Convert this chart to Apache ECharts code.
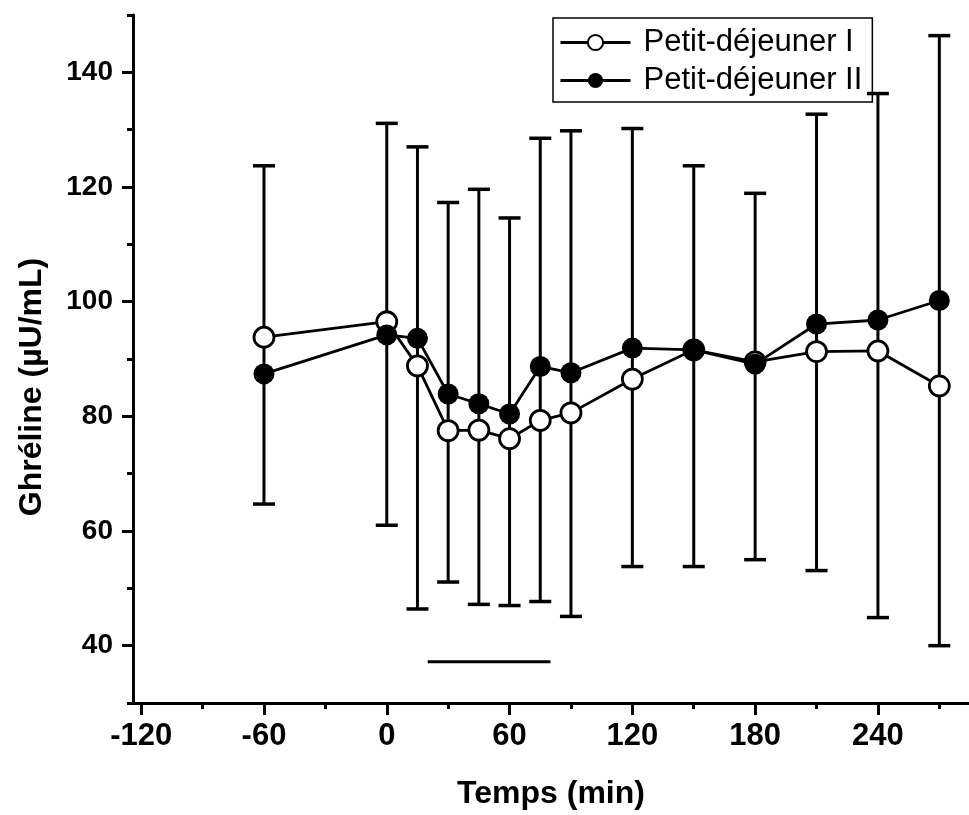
<!DOCTYPE html>
<html>
<head>
<meta charset="utf-8">
<script src="https://cdn.jsdelivr.net/npm/echarts@6/dist/echarts.min.js"></script>
<style>html,body{margin:0;padding:0;background:#fff}#c{width:969px;height:815px}</style>
</head>
<body>
<div id="c"></div>
<script>
// ---- data ----
const times = [-60, 0, 15, 30, 45, 60, 75, 90, 120, 150, 180, 210, 240, 270];
const petitDejeunerI = [93.8, 96.5, 88.8, 77.5, 77.6, 76.1, 79.3, 80.6, 86.5, 91.6, 89.5, 91.3, 91.4, 85.3];
const petitDejeunerII = [87.4, 94.2, 93.6, 83.9, 82.2, 80.4, 88.7, 87.6, 91.9, 91.6, 89.1, 96.1, 96.8, 100.2];
const barTop = [123.7, 131.1, 127.0, 117.3, 119.6, 114.6, 128.5, 129.8, 130.2, 123.7, 118.9, 132.7, 136.3, 146.4];
const barBottom = [64.7, 61.0, 46.4, 51.1, 47.2, 47.0, 47.7, 45.1, 53.8, 53.8, 55.0, 53.1, 44.9, 40.0];
const mealPeriod = [20, 80];
const mealLevel = 37.2;
const xTicks = [-120, -60, 0, 60, 120, 180, 240];
const xMinorTicks = [-90, -30, 30, 90, 150, 210, 270];
const yTicks = [40, 60, 80, 100, 120, 140];
const yMinorTicks = [30, 50, 70, 90, 110, 130, 150];
const seriesNames = ['Petit-déjeuner I', 'Petit-déjeuner II'];

const FONT = "'Liberation Sans', Arial, sans-serif";
const xMin = -124, xMax = 284.5, yMin = 30, yMax = 150;

const errData = times.map((t, i) => [t, barBottom[i], barTop[i]]);
const s1 = times.map((t, i) => [t, petitDejeunerI[i]]);
const s2 = times.map((t, i) => [t, petitDejeunerII[i]]);
const meal = mealPeriod.map(t => [t, mealLevel]);

const chart = echarts.init(document.getElementById('c'), null, {renderer: 'canvas'});
chart.setOption({
  animation: false,
  backgroundColor: '#fff',
  grid: {left: 133, right: 0, top: 15, bottom: 111, containLabel: false},
  legend: {
    data: seriesNames,
    orient: 'vertical',
    left: 553, top: 18,
    padding: [9, 10, 6, 6],
    itemGap: 7,
    itemWidth: 70, itemHeight: 19,
    borderColor: '#000', borderWidth: 1.5,
    lineStyle: {color: '#000', width: 3},
    textStyle: {fontFamily: FONT, fontSize: 31, color: '#000', lineHeight: 31, padding: [0, 0, 0, 8]}
  },
  xAxis: [{
    type: 'value', min: xMin, max: xMax,
    axisLine: {show: true, onZero: false, lineStyle: {color: '#000', width: 3}},
    axisTick: {show: true, customValues: xTicks, length: 12, inside: false, lineStyle: {color: '#000', width: 3}},
    axisLabel: {customValues: xTicks, margin: 18, fontFamily: FONT, fontSize: 31, fontWeight: 'bold', color: '#000'},
    splitLine: {show: false},
    name: 'Temps (min)', nameLocation: 'middle', nameGap: 75,
    nameTextStyle: {fontFamily: FONT, fontSize: 32, fontWeight: 'bold', color: '#000'}
  }, {
    type: 'value', min: xMin, max: xMax, position: 'bottom',
    axisLine: {show: false, onZero: false},
    axisTick: {show: true, customValues: xMinorTicks, length: 6, lineStyle: {color: '#000', width: 3}},
    axisLabel: {show: false},
    splitLine: {show: false}
  }],
  yAxis: [{
    type: 'value', min: yMin, max: yMax,
    axisLine: {show: true, onZero: false, lineStyle: {color: '#000', width: 3}},
    axisTick: {show: true, customValues: yTicks, length: 11, lineStyle: {color: '#000', width: 3}},
    axisLabel: {customValues: yTicks, margin: 20, fontFamily: FONT, fontSize: 28, fontWeight: 'bold', color: '#000'},
    splitLine: {show: false}
  }, {
    type: 'value', min: yMin, max: yMax, position: 'left',
    axisLine: {show: false, onZero: false},
    axisTick: {show: true, customValues: yMinorTicks, length: 6, lineStyle: {color: '#000', width: 3}},
    axisLabel: {show: false},
    splitLine: {show: false}
  }],
  graphic: [{
    type: 'text', x: 32, y: 387, rotation: Math.PI / 2,
    style: {text: 'Ghréline (µU/mL)', fontFamily: FONT, fontSize: 32, fontWeight: 'bold', fill: '#000', align: 'center', verticalAlign: 'middle'}
  }],
  series: [{
    type: 'custom', name: 'err', z: 1,
    data: errData,
    encode: {x: 0, y: [1, 2]},
    renderItem: function (params, api) {
      const x = api.value(0), lo = api.value(1), hi = api.value(2);
      const pHi = api.coord([x, hi]), pLo = api.coord([x, lo]);
      const hw = 11;
      return {type: 'group', children: [
        {type: 'line', shape: {x1: pHi[0], y1: pHi[1], x2: pLo[0], y2: pLo[1]}, style: {stroke: '#000', lineWidth: 3}},
        {type: 'line', shape: {x1: pHi[0] - hw, y1: pHi[1], x2: pHi[0] + hw, y2: pHi[1]}, style: {stroke: '#000', lineWidth: 3.5}},
        {type: 'line', shape: {x1: pLo[0] - hw, y1: pLo[1], x2: pLo[0] + hw, y2: pLo[1]}, style: {stroke: '#000', lineWidth: 3.5}}
      ]};
    }
  }, {
    type: 'line', name: 'meal', z: 1,
    data: meal, symbol: 'none',
    lineStyle: {color: '#000', width: 3}
  }, {
    type: 'line', name: seriesNames[0], z: 3,
    data: s1, symbol: 'circle', symbolSize: 20,
    lineStyle: {color: '#000', width: 2.8},
    itemStyle: {color: '#fff', borderColor: '#000', borderWidth: 2.8}
  }, {
    type: 'line', name: seriesNames[1], z: 4,
    data: s2, symbol: 'circle', symbolSize: 21,
    lineStyle: {color: '#000', width: 2.8},
    itemStyle: {color: '#000', borderColor: '#000', borderWidth: 0}
  }]
});
</script>
</body>
</html>
